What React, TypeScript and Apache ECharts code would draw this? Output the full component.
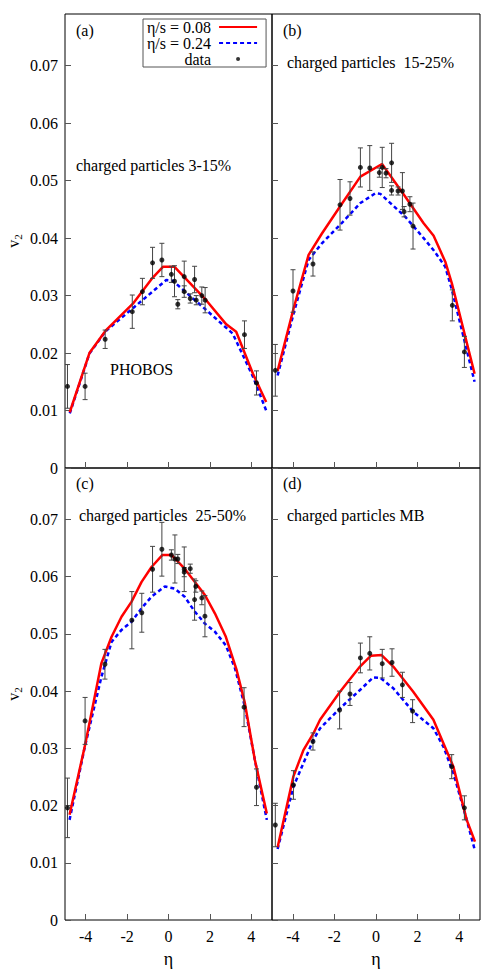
import React, { useEffect, useRef } from 'react';
import * as echarts from 'echarts';

const FONT = '"Liberation Serif", "Times New Roman", serif';

const etaTicks = [-4, -2, 0, 2, 4];
const v2Ticks = [0, 0.01, 0.02, 0.03, 0.04, 0.05, 0.06, 0.07];

const seriesNames = ['η/s = 0.08', 'η/s = 0.24', 'data'];
const panelLabels = ['(a)', '(b)', '(c)', '(d)'];
const panelTitles = [
  'charged particles 3-15%',
  'charged particles  15-25%',
  'charged particles  25-50%',
  'charged particles MB',
];

// [eta, v2, error]
const dataA = [
  [-4.88, 0.0142, 0.0038], [-4.03, 0.0142, 0.0023], [-3.06, 0.0224, 0.0016],
  [-1.75, 0.0272, 0.0029], [-1.26, 0.0307, 0.0023], [-0.77, 0.0357, 0.0027],
  [-0.32, 0.0362, 0.0029], [0.14, 0.0337, 0.0014], [0.29, 0.0325, 0.0027],
  [0.45, 0.0285, 0.0008], [0.76, 0.0333, 0.0027], [0.76, 0.0307, 0.001],
  [1.05, 0.0295, 0.0008], [1.26, 0.0328, 0.0023], [1.34, 0.0292, 0.0008],
  [1.61, 0.03, 0.0015], [1.77, 0.0292, 0.0022], [3.67, 0.0232, 0.0024],
  [4.25, 0.0148, 0.0021],
];
const redA = [
  [-4.77, 0.0097], [-3.82, 0.02], [-3.04, 0.0239], [-1.72, 0.0286], [-0.77, 0.0331],
  [-0.27, 0.035], [0.29, 0.035], [1.82, 0.0292], [2.79, 0.025], [3.27, 0.0237],
  [4.08, 0.0164], [4.72, 0.0115],
];
const blueA = [
  [-4.77, 0.0095], [-3.82, 0.0199], [-3.04, 0.0238], [-1.72, 0.0278], [-0.11, 0.0327],
  [0.2, 0.0326], [1.82, 0.0275], [3.1, 0.0234], [4.08, 0.0159], [4.72, 0.01],
];

const dataB = [
  [-4.84, 0.017, 0.0045], [-3.99, 0.0308, 0.0037], [-3.03, 0.0355, 0.0021],
  [-1.73, 0.0458, 0.0044], [-1.25, 0.0469, 0.0029], [-0.75, 0.0523, 0.0034],
  [-0.3, 0.0522, 0.0039], [0.16, 0.0514, 0.0008], [0.3, 0.0523, 0.0035],
  [0.48, 0.0513, 0.0008], [0.75, 0.0531, 0.0034], [0.75, 0.0483, 0.0008],
  [1.06, 0.0482, 0.0007], [1.27, 0.0482, 0.0032], [1.35, 0.0446, 0.0009],
  [1.63, 0.0459, 0.0013], [1.78, 0.0421, 0.004], [3.67, 0.0283, 0.0027],
  [4.25, 0.0202, 0.0027],
];
const redB = [
  [-4.73, 0.0169], [-3.96, 0.0278], [-3.24, 0.0371], [-2.6, 0.0408], [-1.73, 0.0455],
  [-0.75, 0.0507], [0.29, 0.0529], [1.41, 0.0472], [2.29, 0.0426], [2.77, 0.0404],
  [3.33, 0.0359], [3.65, 0.0321], [4.74, 0.0164],
];
const blueB = [
  [-4.73, 0.0161], [-3.96, 0.0269], [-3.24, 0.0362], [-2.6, 0.0391], [-1.73, 0.0423],
  [-0.75, 0.0461], [-0.03, 0.0478], [0.21, 0.0477], [1.41, 0.0437], [2.29, 0.04],
  [2.77, 0.0379], [3.33, 0.035], [3.65, 0.031], [4.74, 0.015],
];

const dataC = [
  [-4.88, 0.0196, 0.0052], [-4.03, 0.0348, 0.0041], [-3.07, 0.0447, 0.0026],
  [-1.77, 0.0524, 0.005], [-1.29, 0.0537, 0.0034], [-0.77, 0.0613, 0.004],
  [-0.32, 0.0648, 0.0047], [0.14, 0.0638, 0.0009], [0.31, 0.0631, 0.0042],
  [0.45, 0.0631, 0.0008], [0.76, 0.0613, 0.0039], [0.76, 0.0608, 0.0008],
  [1.05, 0.0614, 0.0008], [1.26, 0.056, 0.0036], [1.32, 0.0583, 0.001],
  [1.61, 0.0563, 0.0012], [1.76, 0.0531, 0.0036], [3.65, 0.0372, 0.0034],
  [4.25, 0.0232, 0.0032],
];
const redC = [
  [-4.78, 0.0184], [-4.03, 0.0306], [-3.24, 0.0449], [-2.75, 0.0495], [-2.27, 0.053],
  [-1.79, 0.0556], [-1.3, 0.0591], [-0.82, 0.0617], [-0.29, 0.0638], [0.14, 0.0638],
  [0.78, 0.0614], [1.76, 0.0568], [2.24, 0.0536], [2.77, 0.0495], [3.29, 0.0437],
  [3.69, 0.0379], [4.17, 0.028], [4.75, 0.0186],
];
const blueC = [
  [-4.78, 0.0175], [-4.04, 0.0303], [-3.24, 0.0425], [-2.75, 0.0486], [-2.27, 0.0507],
  [-1.79, 0.0521], [-1.3, 0.0545], [-0.82, 0.0565], [-0.18, 0.0583], [0.31, 0.0579],
  [0.78, 0.0565], [1.27, 0.0539], [1.76, 0.0518], [2.24, 0.0504], [2.77, 0.048],
  [3.21, 0.044], [3.69, 0.0373], [4.17, 0.028], [4.75, 0.0175],
];

const dataD = [
  [-4.84, 0.0166, 0.0038], [-3.97, 0.0236, 0.0025], [-3.03, 0.0312, 0.0015],
  [-1.75, 0.0367, 0.0033], [-1.25, 0.0395, 0.002], [-0.75, 0.0458, 0.0026],
  [-0.3, 0.0466, 0.0029], [0.3, 0.0448, 0.0025], [0.77, 0.045, 0.0024],
  [1.27, 0.0411, 0.0022], [1.76, 0.0365, 0.002], [3.64, 0.0268, 0.0021],
  [4.25, 0.0196, 0.0021],
];
const redD = [
  [-4.73, 0.0127], [-3.97, 0.0251], [-3.49, 0.0297], [-3.01, 0.0326], [-2.69, 0.035],
  [-1.73, 0.0399], [-0.77, 0.0443], [-0.24, 0.0462], [0.27, 0.0463], [0.83, 0.0443],
  [1.79, 0.0399], [2.76, 0.035], [3.24, 0.0309], [3.72, 0.0268], [4.36, 0.0175],
  [4.76, 0.0137],
];
const blueD = [
  [-4.73, 0.0124], [-3.97, 0.0233], [-3.01, 0.0315], [-2.69, 0.0335], [-1.73, 0.037],
  [-0.77, 0.0402], [-0.13, 0.0424], [0.22, 0.0423], [0.83, 0.0405], [1.79, 0.0364],
  [2.76, 0.0335], [3.24, 0.0303], [3.72, 0.0257], [4.36, 0.0175], [4.76, 0.0121],
];

const panelData = [dataA, dataB, dataC, dataD];
const panelRed = [redA, redB, redC, redD];
const panelBlue = [blueA, blueB, blueC, blueD];

const grids = [
  { left: 65, top: 14, width: 207, height: 454 },
  { left: 272, top: 14, width: 208, height: 454 },
  { left: 65, top: 468, width: 207, height: 452 },
  { left: 272, top: 468, width: 208, height: 452 },
];

const labelPos = [
  [76, 30], [283, 30], [76, 483], [283, 483],
];
const titlePos = [
  [76, 165], [287, 62], [79, 515], [287, 515],
];

export default function App() {
  const ref = useRef<HTMLDivElement>(null);

  useEffect(() => {
    if (!ref.current) return;
    const chart = echarts.init(ref.current, undefined, { renderer: 'svg' });

    const xAxes: any[] = [];
    const yAxes: any[] = [];
    const series: any[] = [];

    for (let i = 0; i < 4; i++) {
      const isBottom = i >= 2;
      const isLeft = i % 2 === 0;
      xAxes.push({
        type: 'value',
        gridIndex: i,
        min: -5,
        max: 5,
        axisLine: { show: false, onZero: false },
        splitLine: { show: false },
        axisTick: {
          show: true,
          inside: true,
          length: 6,
          customValues: etaTicks,
          lineStyle: { color: '#555', width: 1 },
        },
        axisLabel: {
          show: isBottom,
          customValues: etaTicks,
          margin: 8,
          color: '#000',
          fontFamily: FONT,
          fontSize: 16,
        },
        name: isBottom ? 'η' : '',
        nameLocation: 'middle',
        nameGap: 30,
        nameTextStyle: { color: '#000', fontFamily: FONT, fontSize: 18 },
      });
      yAxes.push({
        type: 'value',
        gridIndex: i,
        min: 0,
        max: 0.079,
        axisLine: { show: false, onZero: false },
        splitLine: { show: false },
        axisTick: {
          show: true,
          inside: true,
          length: 6,
          customValues: v2Ticks,
          lineStyle: { color: '#555', width: 1 },
        },
        axisLabel: {
          show: isLeft,
          customValues: v2Ticks,
          margin: 7,
          color: '#000',
          fontFamily: FONT,
          fontSize: 16,
          formatter: (v: number) => (v === 0 ? '0' : v.toFixed(2)),
        },
        name: isLeft ? '{v|v}{s|2}' : '',
        nameLocation: 'middle',
        nameRotate: 90,
        nameGap: 42,
        nameTextStyle: {
          color: '#000',
          rich: {
            v: { fontFamily: FONT, fontSize: 16, color: '#000' },
            s: { fontFamily: FONT, fontSize: 11, color: '#000', padding: [8, 0, 0, 0] },
          },
        },
      });

      series.push({
        name: seriesNames[0],
        type: 'line',
        xAxisIndex: i,
        yAxisIndex: i,
        data: panelRed[i],
        symbol: 'none',
        lineStyle: { color: '#ff0000', width: 2.5 },
        itemStyle: { color: '#ff0000' },
        z: 3,
      });
      series.push({
        name: seriesNames[1],
        type: 'line',
        xAxisIndex: i,
        yAxisIndex: i,
        data: panelBlue[i],
        symbol: 'none',
        lineStyle: { color: '#0000ff', width: 2.5, type: [4, 3] },
        itemStyle: { color: '#0000ff' },
        z: 2,
      });
      series.push({
        name: 'errors',
        type: 'custom',
        xAxisIndex: i,
        yAxisIndex: i,
        data: panelData[i],
        encode: { x: 0, y: 1 },
        z: 4,
        renderItem: (params: any, api: any) => {
          const x = api.value(0);
          const y = api.value(1);
          const e = api.value(2);
          const top = api.coord([x, y + e]);
          const bot = api.coord([x, y - e]);
          const w = 2.5;
          const st = { stroke: '#444', lineWidth: 1 };
          return {
            type: 'group',
            children: [
              { type: 'line', shape: { x1: top[0], y1: top[1], x2: bot[0], y2: bot[1] }, style: st },
              { type: 'line', shape: { x1: top[0] - w, y1: top[1], x2: top[0] + w, y2: top[1] }, style: st },
              { type: 'line', shape: { x1: bot[0] - w, y1: bot[1], x2: bot[0] + w, y2: bot[1] }, style: st },
            ],
          };
        },
      });
      series.push({
        name: seriesNames[2],
        type: 'scatter',
        xAxisIndex: i,
        yAxisIndex: i,
        data: panelData[i].map((d) => [d[0], d[1]]),
        symbol: 'circle',
        symbolSize: 5,
        itemStyle: { color: '#000' },
        z: 5,
      });
    }

    const graphics: any[] = [];
    for (let i = 0; i < 4; i++) {
      graphics.push({
        type: 'text',
        x: labelPos[i][0],
        y: labelPos[i][1],
        style: { text: panelLabels[i], fill: '#000', font: `16px ${FONT}`, verticalAlign: 'middle' },
      });
      graphics.push({
        type: 'text',
        x: titlePos[i][0],
        y: titlePos[i][1],
        style: { text: panelTitles[i], fill: '#000', font: `16px ${FONT}`, verticalAlign: 'middle' },
      });
    }
    graphics.push({
      type: 'text',
      x: 110,
      y: 369,
      style: { text: 'PHOBOS', fill: '#000', font: `16px ${FONT}`, verticalAlign: 'middle' },
    });

    chart.setOption({
      animation: false,
      grid: grids.map((g) => ({ ...g, show: true, borderColor: '#000', borderWidth: 1, backgroundColor: 'transparent' })),
      xAxis: xAxes,
      yAxis: yAxes,
      legend: {
        data: [
          { name: seriesNames[0], itemStyle: { opacity: 0 } },
          { name: seriesNames[1], itemStyle: { opacity: 0 } },
          { name: seriesNames[2], icon: 'path://M0,0M38,16M17,8a2,2 0 1,0 4,0a2,2 0 1,0 -4,0z' },
        ],
        orient: 'vertical',
        align: 'right',
        left: 143,
        top: 19,
        itemWidth: 38,
        itemHeight: 16,
        itemGap: 0,
        padding: [0, 8, 0, 4],
        borderColor: '#555',
        borderWidth: 1,
        selectedMode: false,
        textStyle: { fontFamily: FONT, fontSize: 16, color: '#000', lineHeight: 16, padding: [0, 3, 0, 0] },
      },
      graphic: graphics,
      series,
    });

    return () => chart.dispose();
  }, []);

  return (
    <div
      ref={ref}
      style={{ position: 'absolute', left: 0, top: 0, width: 499, height: 977, background: '#fff' }}
    />
  );
}
